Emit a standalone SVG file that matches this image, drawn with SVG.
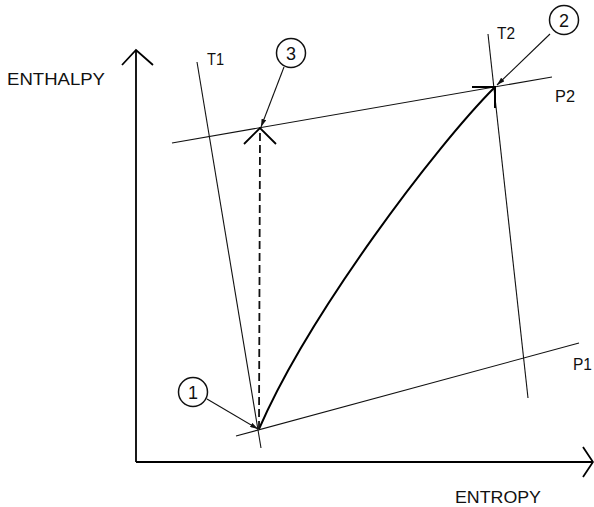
<svg xmlns="http://www.w3.org/2000/svg" width="594" height="507" viewBox="0 0 594 507">
<style>
.ax{stroke:#000;stroke-width:1.8;fill:none}
.thin{stroke:#111;stroke-width:1.1;fill:none}
.curve{stroke:#000;stroke-width:2;fill:none}
.dash{stroke:#111;stroke-width:1.8;fill:none;stroke-dasharray:8 4}
.lbl{font-family:"Liberation Sans",Arial,sans-serif;font-size:17px;fill:#111}
.num{font-family:"Liberation Sans",Arial,sans-serif;font-size:18px;fill:#111;text-anchor:middle}
.circ{stroke:#111;stroke-width:1.5;fill:#fff}
</style>
<defs>
<marker id="tip" viewBox="0 0 10 6" refX="10" refY="3" markerWidth="8" markerHeight="5" markerUnits="userSpaceOnUse" orient="auto">
<path d="M0,0 L10,3 L0,6 z" fill="#111"/>
</marker>
</defs>
<g id="axes">
<line class="ax" x1="136" y1="462" x2="136" y2="50"/>
<polyline class="ax" points="122,65 136,50 153,65"/>
<line class="ax" x1="136" y1="462" x2="593" y2="462"/>
<polyline class="ax" points="583,447 593,462 583,477"/>
<text class="lbl" x="7" y="85" textLength="98" lengthAdjust="spacingAndGlyphs">ENTHALPY</text>
<text class="lbl" x="455" y="503" textLength="86" lengthAdjust="spacingAndGlyphs">ENTROPY</text>
</g>
<g id="isotherm-T1">
<line class="thin" x1="197" y1="62" x2="261" y2="448"/>
<text class="lbl" x="207" y="65" textLength="17" lengthAdjust="spacingAndGlyphs">T1</text>
</g>
<g id="isotherm-T2">
<line class="thin" x1="488" y1="34" x2="528" y2="398"/>
<text class="lbl" x="497" y="39" textLength="18" lengthAdjust="spacingAndGlyphs">T2</text>
</g>
<g id="isobar-P2">
<line class="thin" x1="172" y1="143" x2="552" y2="77"/>
<text class="lbl" x="555" y="102" textLength="20" lengthAdjust="spacingAndGlyphs">P2</text>
</g>
<g id="isobar-P1">
<line class="thin" x1="236" y1="436" x2="579" y2="343"/>
<text class="lbl" x="573" y="370" textLength="19" lengthAdjust="spacingAndGlyphs">P1</text>
</g>
<g id="connectors">
<path class="curve" d="M259,429 C309,314 435,147 495,87"/>
<polyline class="curve" points="472,87 495,87 495,108"/>
<line class="dash" x1="259" y1="429" x2="260" y2="129"/>
<polyline class="ax" points="244,144 260,128 276,144"/>
<line class="thin" x1="284" y1="67" x2="261" y2="127" marker-end="url(#tip)"/>
<line class="thin" x1="207" y1="399" x2="258" y2="429" marker-end="url(#tip)"/>
<line class="thin" x1="550" y1="34" x2="497" y2="85" marker-end="url(#tip)"/>
</g>
<g id="point-1">
<circle class="circ" cx="193" cy="392" r="14.5"/>
<text class="num" x="193" y="399">1</text>
</g>
<g id="point-2">
<circle class="circ" cx="564" cy="20" r="14.5"/>
<text class="num" x="564" y="27">2</text>
</g>
<g id="point-3">
<circle class="circ" cx="291" cy="53" r="14.5"/>
<text class="num" x="291" y="60">3</text>
</g>
</svg>
